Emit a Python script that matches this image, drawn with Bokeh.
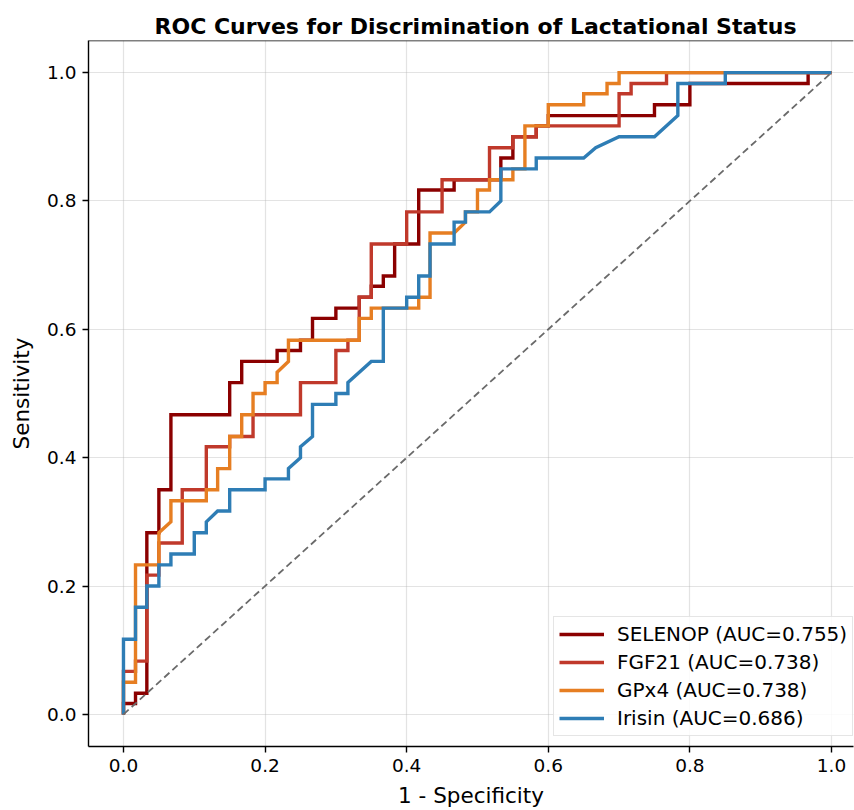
from bokeh.plotting import figure
from bokeh.models import (Range1d, FixedTicker, NumeralTickFormatter, Legend, LegendItem, Span)
from bokeh.embed import file_html
from bokeh.resources import INLINE

# ROC vertices (false positive rate, true positive rate)
selenop_fpr = [0, 0, 0.017, 0.017, 0.033, 0.033, 0.05, 0.05, 0.067, 0.067, 0.15, 0.15, 0.167, 0.167,
               0.217, 0.217, 0.25, 0.25, 0.267, 0.267, 0.3, 0.3, 0.333, 0.333, 0.35, 0.35, 0.367, 0.367,
               0.383, 0.383, 0.417, 0.417, 0.467, 0.467, 0.533, 0.533, 0.55, 0.55, 0.583, 0.583, 0.6,
               0.6, 0.75, 0.75, 0.8, 0.8, 0.967, 0.967, 1.0]
selenop_tpr = [0, 0.017, 0.017, 0.033, 0.033, 0.283, 0.283, 0.35, 0.35, 0.467, 0.467, 0.517, 0.517, 0.55,
               0.55, 0.567, 0.567, 0.583, 0.583, 0.617, 0.617, 0.633, 0.633, 0.65, 0.65, 0.667, 0.667, 0.683,
               0.683, 0.733, 0.733, 0.817, 0.817, 0.833, 0.833, 0.867, 0.867, 0.9, 0.9, 0.917, 0.917,
               0.933, 0.933, 0.95, 0.95, 0.983, 0.983, 1.0, 1.0]

fgf21_fpr = [0, 0, 0.017, 0.017, 0.033, 0.033, 0.05, 0.05, 0.083, 0.083, 0.117, 0.117, 0.15, 0.15,
             0.183, 0.183, 0.25, 0.25, 0.3, 0.3, 0.317, 0.317, 0.333, 0.333, 0.35, 0.35, 0.4, 0.4,
             0.45, 0.45, 0.517, 0.517, 0.55, 0.55, 0.583, 0.583, 0.7, 0.7, 0.717, 0.717, 0.767, 0.767, 1.0]
fgf21_tpr = [0, 0.067, 0.067, 0.083, 0.083, 0.217, 0.217, 0.267, 0.267, 0.35, 0.35, 0.417, 0.417, 0.433,
             0.433, 0.467, 0.467, 0.517, 0.517, 0.567, 0.567, 0.583, 0.583, 0.65, 0.65, 0.733, 0.733, 0.783,
             0.783, 0.833, 0.833, 0.883, 0.883, 0.9, 0.9, 0.917, 0.917, 0.967, 0.967, 0.983, 0.983, 1.0, 1.0]

gpx4_fpr = [0, 0, 0.017, 0.017, 0.05, 0.05, 0.067, 0.067, 0.117, 0.117, 0.133, 0.133, 0.15, 0.15,
            0.167, 0.167, 0.183, 0.183, 0.2, 0.2, 0.217, 0.217, 0.233, 0.233, 0.333, 0.333, 0.35, 0.35,
            0.417, 0.417, 0.433, 0.433, 0.467, 0.483, 0.483, 0.5, 0.5, 0.517, 0.517, 0.55, 0.55, 0.567,
            0.567, 0.6, 0.6, 0.65, 0.65, 0.683, 0.683, 0.7, 0.7, 1.0]
gpx4_tpr = [0, 0.05, 0.05, 0.233, 0.233, 0.283, 0.3, 0.333, 0.333, 0.35, 0.35, 0.383, 0.383, 0.433,
            0.433, 0.467, 0.467, 0.5, 0.5, 0.517, 0.517, 0.533, 0.55, 0.583, 0.583, 0.617, 0.617, 0.633,
            0.633, 0.65, 0.65, 0.75, 0.75, 0.767, 0.783, 0.783, 0.817, 0.817, 0.833, 0.833, 0.85, 0.85,
            0.917, 0.917, 0.95, 0.95, 0.967, 0.967, 0.983, 0.983, 1.0, 1.0]

irisin_fpr = [0, 0, 0.017, 0.017, 0.033, 0.033, 0.05, 0.05, 0.067, 0.067, 0.1, 0.1, 0.117, 0.117,
              0.133, 0.15, 0.15, 0.2, 0.2, 0.233, 0.233, 0.25, 0.25, 0.267, 0.267, 0.3, 0.3, 0.317,
              0.317, 0.35, 0.367, 0.367, 0.4, 0.4, 0.417, 0.417, 0.433, 0.433, 0.467, 0.467, 0.483,
              0.483, 0.517, 0.533, 0.533, 0.583, 0.583, 0.65, 0.667, 0.7, 0.75, 0.783, 0.783, 0.85,
              0.85, 1.0]
irisin_tpr = [0, 0.117, 0.117, 0.167, 0.167, 0.2, 0.2, 0.233, 0.233, 0.25, 0.25, 0.283, 0.283, 0.3,
              0.317, 0.317, 0.35, 0.35, 0.367, 0.367, 0.383, 0.4, 0.417, 0.433, 0.483, 0.483, 0.5, 0.5,
              0.517, 0.55, 0.55, 0.633, 0.633, 0.65, 0.65, 0.683, 0.683, 0.733, 0.733, 0.767, 0.767,
              0.783, 0.783, 0.8, 0.85, 0.85, 0.867, 0.867, 0.883, 0.9, 0.9, 0.933, 0.983, 0.983,
              1.0, 1.0]

labels = ["SELENOP (AUC=0.755)", "FGF21 (AUC=0.738)", "GPx4 (AUC=0.738)", "Irisin (AUC=0.686)"]
colors = ["#8B0000", "#C0392B", "#E67E22", "#2E7DB5"]
tick_values = [0.0, 0.2, 0.4, 0.6, 0.8, 1.0]

FONT = "DejaVu Sans"

p = figure(width=854, height=810, output_backend="svg", toolbar_location=None,
           x_range=Range1d(-0.0494, 1.0311), y_range=Range1d(-0.05, 1.05),
           min_border_left=88, min_border_right=1, min_border_top=40, min_border_bottom=64)
p.outline_line_color = None
p.background_fill_color = "white"

p.title.text = "ROC Curves for Discrimination of Lactational Status"
p.title.text_font = FONT
p.title.text_font_size = "22px"
p.title.text_font_style = "bold"
p.title.text_color = "black"
p.title.align = "left"
p.title.offset = 66
p.title.standoff = 4

for ax in (p.xaxis[0], p.yaxis[0]):
    ax.ticker = FixedTicker(ticks=tick_values)
    ax.formatter = NumeralTickFormatter(format="0.0")
    ax.major_label_text_font = FONT
    ax.major_label_text_font_size = "18.5px"
    ax.major_label_text_color = "black"
    ax.axis_label_text_font = FONT
    ax.axis_label_text_font_size = "21.5px"
    ax.axis_label_text_font_style = "normal"
    ax.axis_label_text_color = "black"
    ax.axis_line_color = "black"
    ax.axis_line_width = 1.4
    ax.major_tick_line_color = "black"
    ax.major_tick_line_width = 1.4
    ax.major_tick_out = 6
    ax.major_tick_in = 0
    ax.minor_tick_line_color = None
    ax.major_label_standoff = 6

p.xaxis.axis_label = "1 - Specificity"
p.yaxis.axis_label = "Sensitivity"
p.xaxis.axis_label_standoff = 8
p.yaxis.axis_label_standoff = 10

p.xgrid.ticker = FixedTicker(ticks=tick_values)
p.ygrid.ticker = FixedTicker(ticks=tick_values)
p.grid.grid_line_color = "#b0b0b0"
p.grid.grid_line_alpha = 0.35
p.grid.grid_line_width = 1.2

p.add_layout(Span(location=1.05, dimension="width", line_color="black", line_width=1.4))

series = [(selenop_fpr, selenop_tpr), (fgf21_fpr, fgf21_tpr), (gpx4_fpr, gpx4_tpr), (irisin_fpr, irisin_tpr)]
items = []
for (fx, ty), lab, col in zip(series, labels, colors):
    r = p.line(fx, ty, line_color=col, line_width=3.4, line_join="miter")
    items.append(LegendItem(label=lab, renderers=[r]))

p.line([0, 1], [0, 1], line_color="#6a6a6a", line_width=1.8, line_dash="7 4")

legend = Legend(items=items, location=(465, 10), margin=0,
                label_text_font=FONT, label_text_font_size="20px", label_text_color="black",
                glyph_width=45, glyph_height=24, label_height=24, spacing=4, padding=5,
                label_standoff=13, border_line_color="#cccccc", border_line_width=1.2,
                background_fill_color="white", background_fill_alpha=0.85)
p.add_layout(legend)

open("out.html", "w").write(file_html(p, INLINE))
